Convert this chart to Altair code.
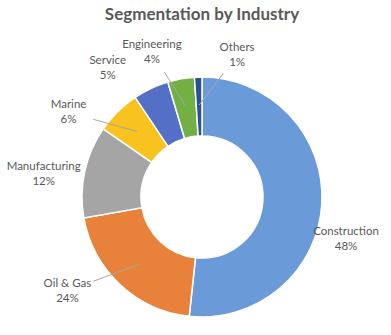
import math
import altair as alt
import numpy as np
import pandas as pd

# ---- data ----
categories = ["Construction", "Oil & Gas", "Manufacturing", "Marine", "Service", "Engineering", "Others"]
shares = [51.7, 20.5, 12.4, 6.0, 4.8, 3.6, 1.0]          # slice sizes as drawn
pct_labels = ["48%", "24%", "12%", "6%", "5%", "4%", "1%"]  # printed data labels
colors = ["#6A9BD8", "#E8823A", "#A5A5A5", "#F9C31F", "#5470C6", "#72B043", "#2B5193"]

# ---- layout ----
W, H = 378, 276
PAD = {"left": 13, "top": 59, "right": 0, "bottom": 0}
R_OUT, R_IN, R_LEAD = 120, 61, 92
# label placement (angle nudge from slice middle in degrees, distance from centre)
label_place = {
    "Construction": (13.2, 150),
    "Oil & Gas": (12.1, 164),
    "Manufacturing": (-3.9, 160),
    "Marine": (-13.0, 158),
    "Service": (-10.9, 160),
    "Engineering": (-9.0, 153),
    "Others": (15.7, 146),
}
with_leader = ["Oil & Gas", "Marine", "Engineering", "Others"]

df = pd.DataFrame({"category": categories, "share": shares, "pct": pct_labels,
                   "idx": range(len(categories))})
total = df["share"].sum()
start = df["share"].cumsum() - df["share"]
df["mid"] = (start + df["share"] / 2) / total * 360.0

cx, cy = W / 2, H / 2


def polar(angle_deg, r):
    a = math.radians(angle_deg)
    return cx + r * math.sin(a), cy - r * math.cos(a)


lab_rows, lead_rows = [], []
for _, row in df.iterrows():
    nudge, r = label_place[row["category"]]
    lx, ly = polar(row["mid"] + nudge, r)
    lab_rows.append({"category": row["category"], "text": f'{row["category"]}\n{row["pct"]}',
                     "lx": lx, "ly": ly})
    if row["category"] in with_leader:
        ex, ey = polar(row["mid"], R_LEAD)
        sx, sy = lx + 0.36 * (ex - lx), ly + 0.36 * (ey - ly)
        lead_rows.append({"x1": sx, "y1": sy, "x2": ex, "y2": ey})
lab_df = pd.DataFrame(lab_rows)
lead_df = pd.DataFrame(lead_rows)

arcs = alt.Chart(df).mark_arc(outerRadius=R_OUT, innerRadius=R_IN, stroke="white",
                              strokeWidth=1.5).encode(
    theta=alt.Theta("share:Q", stack=True),
    color=alt.Color("category:N", scale=alt.Scale(domain=categories, range=colors), legend=None),
    order=alt.Order("idx:Q"),
)

leaders = alt.Chart(lead_df).mark_rule(color="#A6A6A6", strokeWidth=1).encode(
    x=alt.X("x1:Q", scale=None, axis=None),
    y=alt.Y("y1:Q", scale=None, axis=None),
    x2="x2:Q",
    y2="y2:Q",
)

labels = alt.Chart(lab_df).mark_text(lineBreak="\n", fontSize=11.5, font="Lato", color="#595959",
                                     lineHeight=15, align="center", baseline="middle",
                                     dy=-7).encode(
    x=alt.X("lx:Q", scale=None, axis=None),
    y=alt.Y("ly:Q", scale=None, axis=None),
    text="text:N",
)

chart = alt.layer(arcs, leaders, labels).properties(
    width=W, height=H,
    padding=PAD,
    autosize=alt.AutoSizeParams(type="none"),
    background="white",
    title=alt.Title("Segmentation by Industry", fontSize=17, fontWeight="bold", font="Lato",
                    color="#595959", anchor="middle", offset=15),
).configure_view(stroke=None)

chart.save("out.html", embed_options={"renderer": "svg", "actions": False})
